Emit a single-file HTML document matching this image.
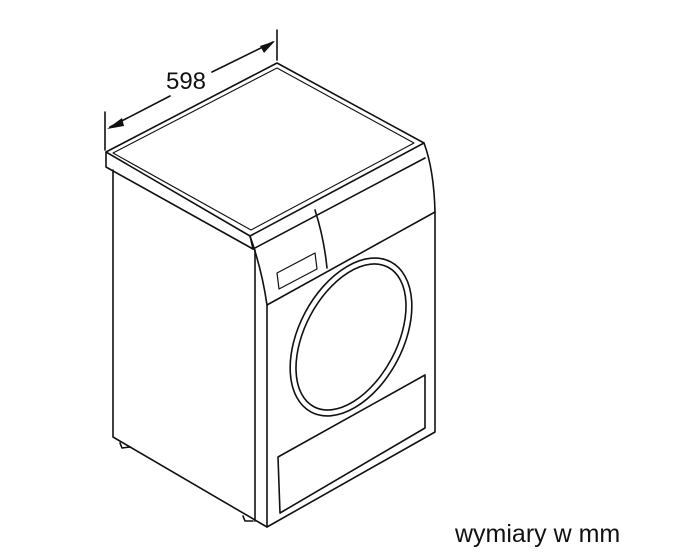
<!DOCTYPE html>
<html><head><style>html,body{margin:0;padding:0;background:#fff;}svg{display:block}</style></head>
<body>
<svg width="680" height="554" viewBox="0 0 680 554" xmlns="http://www.w3.org/2000/svg">
<g fill="none" stroke="#111" stroke-width="1.6" stroke-linejoin="round" stroke-linecap="round">
<line x1="105" y1="112" x2="105" y2="150"/>
<line x1="277" y1="30" x2="277" y2="60"/>
<line x1="110" y1="127" x2="170" y2="96"/>
<line x1="212" y1="72" x2="273" y2="42"/>
<path d="M106,152 L277,63 L424,143 L250,236 Z"/>
<path d="M113,153 L277,68 L414,143 L251,230 Z" stroke-width="1.1"/>
<path d="M106,152 L106,167 L253,249 L250,236"/>
<path d="M253,249 L425,158"/>
<path d="M424,143 Q434,170 435,212 L267,305 Q262,270 250,236"/>
<path d="M315,210 Q324,238 327,268"/>
<path d="M277,273 L315,253 L317,269 L279,289 Z" stroke-width="1.2"/>
<path d="M113,170 L113,437 L267,527 L435,432 L435,212"/>
<line x1="255" y1="250" x2="255" y2="521"/>
<line x1="267" y1="305" x2="267" y2="527"/>
<ellipse cx="351" cy="337" rx="52" ry="85" transform="rotate(28 351 337)"/>
<ellipse cx="351" cy="337" rx="46" ry="79" transform="rotate(28 351 337)"/>
<path d="M278,457 L425,375 L425,428 L280,513 Z"/>
<path d="M120,443 L122,448 L130,447"/>
<path d="M243,516 L245,521 L253,521"/>
</g>
<polygon points="107,129 122,118 124,126" fill="#111"/>
<polygon points="275,41 260,46 264,53" fill="#111"/>
<text x="186" y="89" font-family="Liberation Sans, sans-serif" font-size="24" text-anchor="middle" fill="#111">598</text>
<text x="455" y="542" font-family="Liberation Sans, sans-serif" font-size="25" fill="#111">wymiary w mm</text>
</svg>
</body></html>
